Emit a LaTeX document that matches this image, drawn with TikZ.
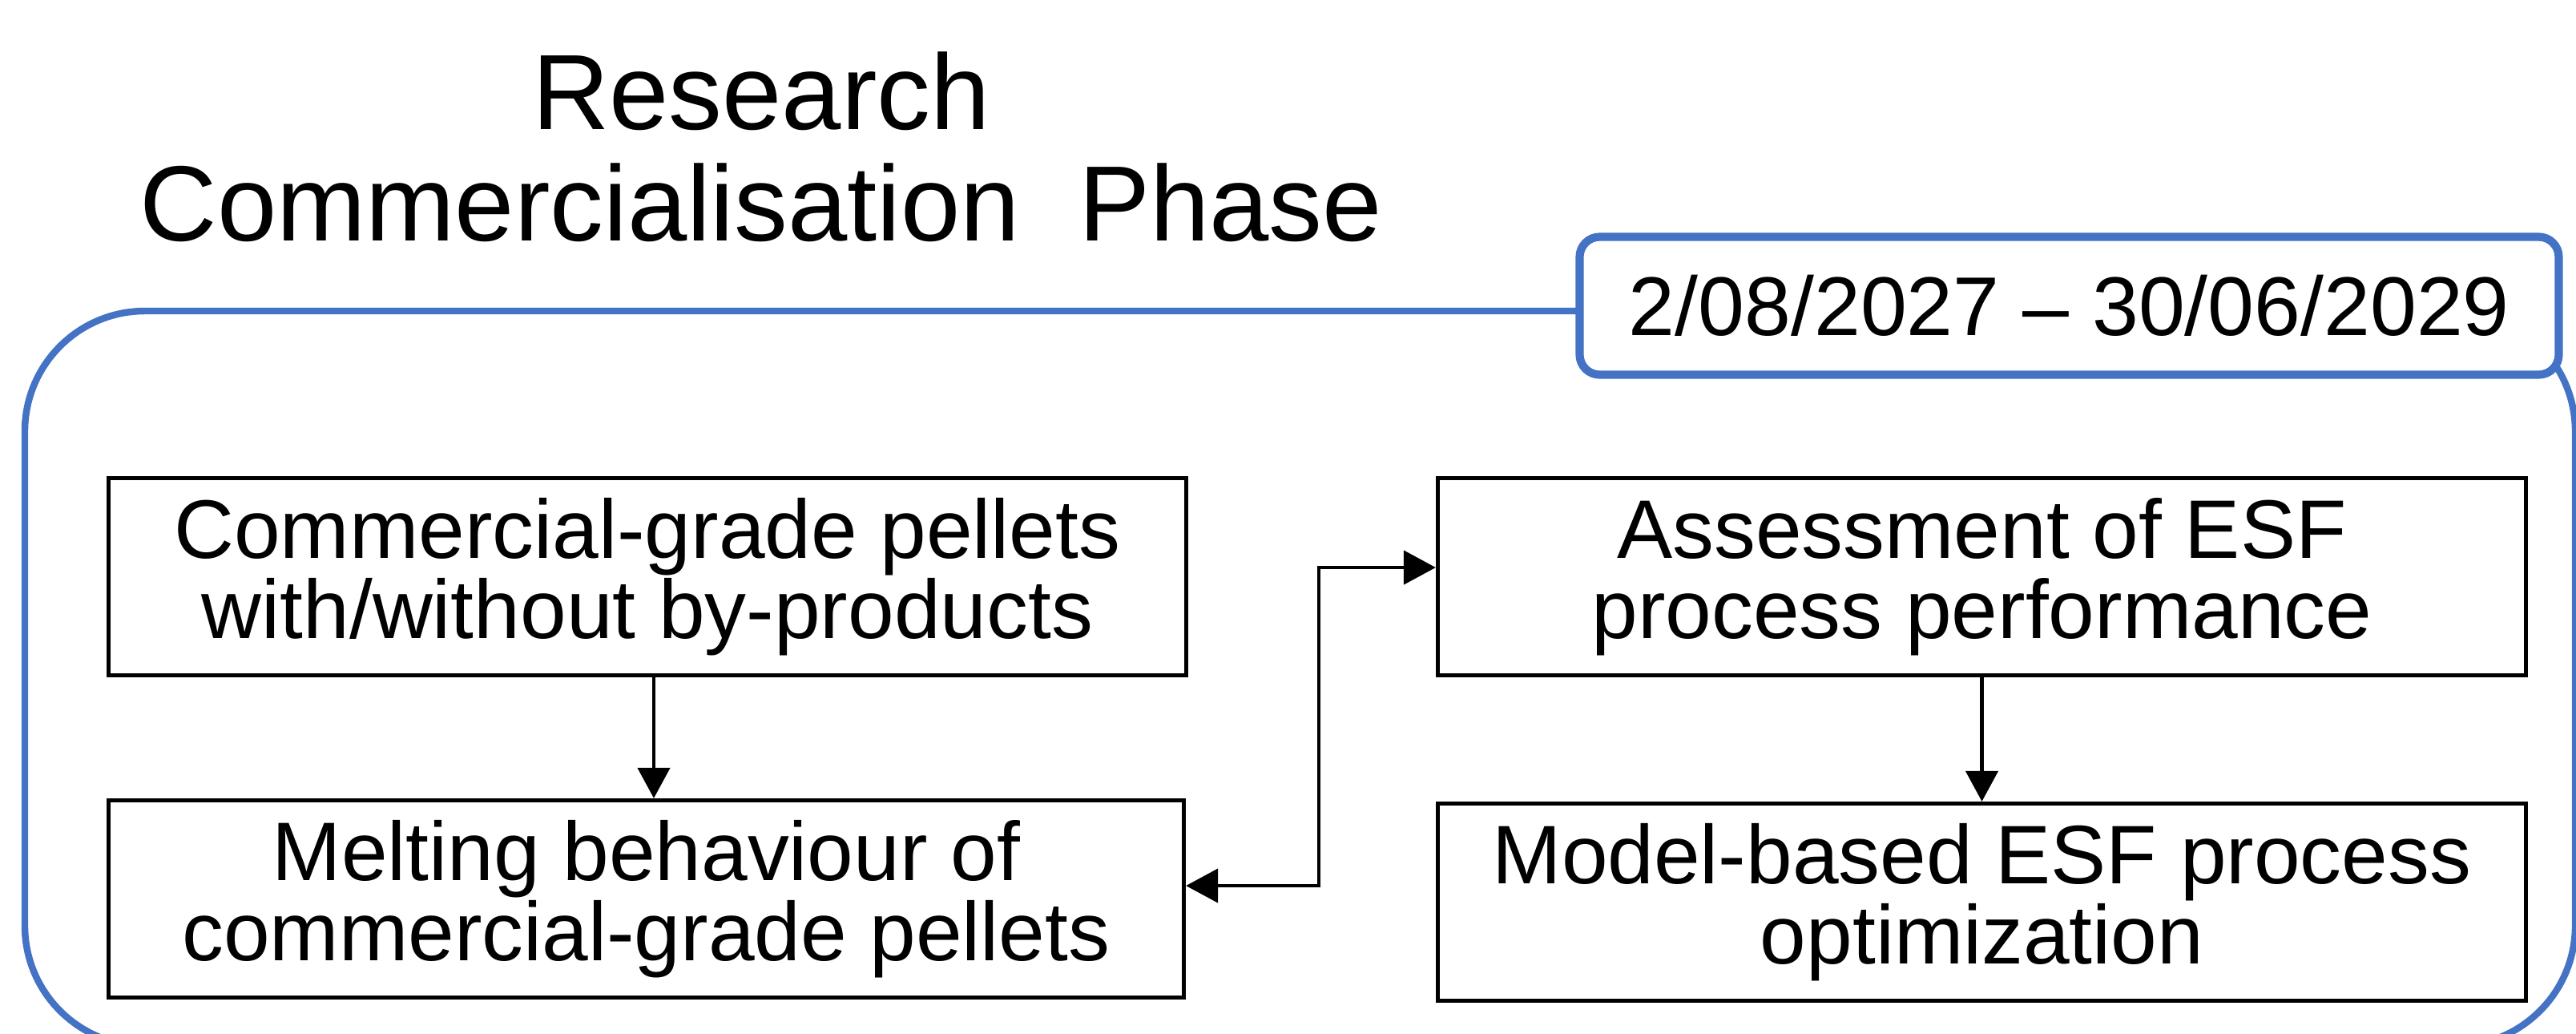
\documentclass[tikz,border=0pt]{standalone}
\usepackage{fontspec}
\setmainfont{Liberation Sans}
\usetikzlibrary{arrows.meta}
\definecolor{frameblue}{HTML}{4472C4}
\begin{document}
\begin{tikzpicture}[x=1cm,y=1cm,
  taskbox/.style={draw=black, line width=1.5pt, minimum height=2.46cm,
    inner sep=0pt, align=center, font=\fontsize{29.5}{28.5}\selectfont},
  datebox/.style={draw=frameblue, fill=white, line width=2.9pt, rounded corners=0.25cm,
    minimum width=12.22cm, minimum height=1.72cm, inner sep=0pt,
    font=\fontsize{29.6}{29.6}\selectfont},
  titletext/.style={font=\fontsize{38}{39}\selectfont, anchor=base, inner sep=0pt},
  flow/.style={line width=1.25pt, -{Triangle[length=0.38cm,width=0.4cm]}},
  dflow/.style={line width=1.25pt, {Triangle[length=0.4cm,width=0.42cm]}-{Triangle[length=0.4cm,width=0.42cm]}}]
\useasboundingbox (0,0) rectangle (32.15,-12.89);
\fill[white] (0,0) rectangle (32.15,-12.89);
% outer phase frame
\draw[frameblue, line width=2.4pt, rounded corners=1.5cm] (0.31,-3.88) rectangle (32.14,-13.05);
% title
\node[titletext] (title1) at (9.50,-1.61) {Research};
\node[titletext] (title2) at (9.50,-3.00) {Commercialisation\hspace{0.55em}Phase};
% date
\node[datebox] (date) at (25.825,-3.815) {2/08/2027 – 30/06/2029};
% tasks
\node[taskbox, minimum width=13.45cm] (A) at (8.08,-7.195) {Commercial-grade pellets\\with/without by-products};
\node[taskbox, minimum width=13.42cm] (B) at (8.065,-11.215) {Melting behaviour of\\commercial-grade pellets};
\node[taskbox, minimum width=13.58cm] (C) at (24.735,-7.195) {Assessment of ESF\\process performance};
\node[taskbox, minimum width=13.58cm] (D) at (24.735,-11.255) {Model-based ESF process\\optimization};
% connectors
\coordinate (abx) at (8.16,0);
\draw[flow] (A.south -| abx) -- (B.north -| abx);
\draw[flow] (C.south) -- (D.north);
\coordinate (bend) at (16.46,-7.08);
\coordinate (bendlow) at (16.46,-11.05);
\draw[dflow] (B.east |- bendlow) -- (bendlow) -- (bend) -- (C.west |- bend);
\end{tikzpicture}
\end{document}
